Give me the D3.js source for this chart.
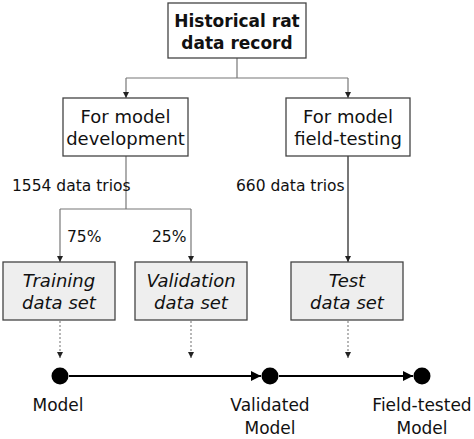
<!DOCTYPE html><html><head><script src="https://cdn.jsdelivr.net/npm/d3@7"></script>
<style>body{margin:0;background:#fff}text{font-family:"DejaVu Sans",sans-serif;font-size:15px;fill:#111}</style></head><body>
<svg id="c" width="474" height="439"></svg>
<script>
const boxes=[
 {id:"top",x:168,y:3,w:138,h:55,lines:["Historical rat","data record"],bold:true,fill:"#fff"},
 {id:"dev",x:63,y:98,w:125,h:58,lines:["For model","development"],fill:"#fff"},
 {id:"field",x:286,y:98,w:124,h:58,lines:["For model","field-testing"],fill:"#fff"},
 {id:"train",x:3,y:262,w:112,h:58,lines:["Training","data set"],italic:true,fill:"#eee"},
 {id:"val",x:135,y:262,w:112,h:58,lines:["Validation","data set"],italic:true,fill:"#eee"},
 {id:"test",x:291,y:262,w:112,h:58,lines:["Test","data set"],italic:true,fill:"#eee"}];
const labels=[{t:"1554 data trios",x:12,y:191},{t:"660 data trios",x:236,y:191},{t:"75%",x:67,y:242},{t:"25%",x:152,y:242}];
const nodes=[{x:58,lines:["Model"]},{x:270,lines:["Validated","Model"]},{x:422,lines:["Field-tested","Model"]}];
const svg=d3.select("#c");
const defs=svg.append("defs");
defs.append("marker").attr("id","a").attr("viewBox","0 0 10 10").attr("refX",10).attr("refY",5).attr("markerWidth",6).attr("markerHeight",6).attr("orient","auto").attr("markerUnits","userSpaceOnUse").append("path").attr("d","M0,0L10,5L0,10Z").attr("fill","#222");
defs.append("marker").attr("id","b").attr("viewBox","0 0 10 10").attr("refX",10).attr("refY",5).attr("markerWidth",10).attr("markerHeight",10).attr("orient","auto").attr("markerUnits","userSpaceOnUse").append("path").attr("d","M0,0L10,5L0,10Z").attr("fill","#000");
const L=(pts,opt={})=>svg.append("path").attr("d",d3.line()(pts)).attr("fill","none").attr("stroke",opt.c||"#777").attr("stroke-width",opt.w||1.2).attr("stroke-dasharray",opt.dash||null).attr("marker-end",opt.m?`url(#${opt.m})`:null);
L([[237,58],[237,78]]);L([[126,78],[348,78]]);
L([[126,78],[126,98]],{m:"a"});L([[348,78],[348,98]],{m:"a"});
L([[126,156],[126,209]]);L([[60,209],[191,209]]);
L([[60,209],[60,262]],{m:"a"});L([[191,209],[191,262]],{m:"a"});
L([[348,156],[348,262]],{m:"a",c:"#555",w:1.6});
[60,191,348].forEach(x=>L([[x,321],[x,358]],{m:"a",dash:"2,2",c:"#888"}));
boxes.forEach(b=>{
 const g=svg.append("g");
 g.append("rect").attr("x",b.x).attr("y",b.y).attr("width",b.w).attr("height",b.h).attr("fill",b.fill).attr("stroke","#444").attr("stroke-width",1.3);
 b.lines.forEach((l,i)=>g.append("text").attr("x",b.x+b.w/2).attr("y",b.y+b.h/2-4+i*22).attr("text-anchor","middle")
  .style("font-size",b.bold?"17px":"18px").style("font-weight",b.bold?"bold":null).style("font-style",b.italic?"italic":null).text(l));
});
labels.forEach(l=>svg.append("text").attr("x",l.x).attr("y",l.y).style("font-size","15.5px").text(l.t));
L([[69,376],[261,376]],{m:"b",c:"#000",w:2});L([[279,376],[413,376]],{m:"b",c:"#000",w:2});
nodes.forEach(n=>{svg.append("circle").attr("cx",n.x===58?60:n.x).attr("cy",376).attr("r",8.5).attr("fill","#000");
 n.lines.forEach((l,i)=>svg.append("text").attr("x",n.x).attr("y",411+i*23).attr("text-anchor","middle").style("font-size","17px").text(l));});
</script></body></html>
